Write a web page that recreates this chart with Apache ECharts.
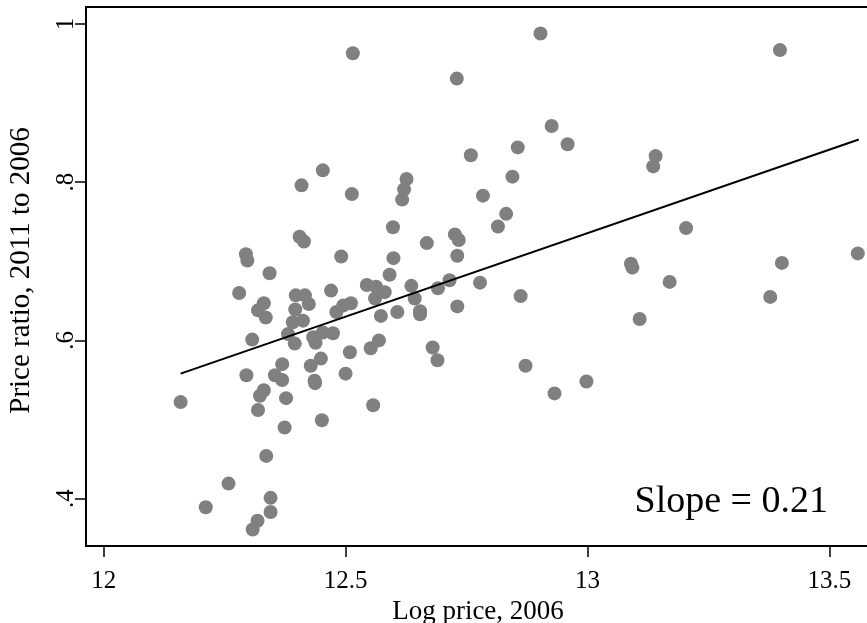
<!DOCTYPE html>
<html>
<head>
<meta charset="utf-8">
<script src="https://cdn.jsdelivr.net/npm/echarts@6/dist/echarts.min.js"></script>
<style>html,body{margin:0;padding:0;background:#fff}#c{width:867px;height:623px}</style>
</head>
<body>
<div id="c"></div>
<script>
// Scatter data: log price 2006 (x) and price ratio 2011/2006 (y)
const logPrice = [
12.515,12.453,12.409,12.513,12.405,12.414,12.294,12.297,12.491,12.343,
12.903,12.730,12.926,12.959,12.856,12.759,12.845,13.141,13.136,12.626,
12.621,12.617,12.784,12.832,12.815,12.598,12.668,12.726,12.734,12.731,
12.599,13.090,13.093,13.398,13.204,13.402,13.559,13.170,13.108,13.378,
12.280,12.470,12.544,12.563,12.581,12.561,12.397,12.416,12.424,12.331,
12.319,12.335,12.396,12.391,12.412,12.481,12.495,12.511,12.573,12.607,
12.307,12.381,12.395,12.433,12.438,12.453,12.474,12.569,12.552,12.509,
12.369,12.428,12.449,12.295,12.354,12.369,12.500,12.436,12.437,12.331,
12.323,12.159,12.377,12.319,12.557,12.451,12.374,12.336,12.258,12.211,
12.345,12.345,12.318,12.308,12.636,12.691,12.715,12.778,12.643,12.862,
12.654,12.654,12.731,12.680,12.690,12.872,12.932,12.998,12.591
];
const priceRatio = [
0.963,0.815,0.796,0.785,0.731,0.725,0.709,0.701,0.706,0.685,
0.988,0.931,0.871,0.848,0.844,0.834,0.807,0.833,0.820,0.804,
0.791,0.778,0.783,0.760,0.744,0.743,0.723,0.734,0.727,0.707,
0.704,0.697,0.692,0.967,0.742,0.698,0.710,0.674,0.627,0.655,
0.660,0.663,0.670,0.668,0.661,0.653,0.657,0.657,0.646,0.647,
0.638,0.629,0.639,0.623,0.625,0.636,0.644,0.647,0.631,0.636,
0.601,0.608,0.596,0.604,0.597,0.610,0.609,0.600,0.590,0.585,
0.570,0.568,0.577,0.556,0.556,0.550,0.558,0.549,0.546,0.537,
0.530,0.522,0.527,0.512,0.518,0.499,0.490,0.454,0.419,0.389,
0.401,0.383,0.372,0.361,0.669,0.666,0.676,0.673,0.653,0.656,
0.637,0.633,0.643,0.591,0.575,0.568,0.533,0.548,0.683
];
// Fitted line end points
const fitX = [12.159, 13.561];
const fitY = [0.558, 0.854];
// Tick values and labels
const xTicks = [12, 12.5, 13, 13.5];
const xTickLabels = ['12', '12.5', '13', '13.5'];
const yTicks = [0.4, 0.6, 0.8, 1];
const yTickLabels = ['.4', '.6', '.8', '1'];
const slopeText = 'Slope = 0.21';

const pts = logPrice.map((x, i) => [x, priceRatio[i]]);
const line = fitX.map((x, i) => [x, fitY[i]]);
const font = 'Liberation Serif';

const chart = echarts.init(document.getElementById('c'), null, {renderer: 'canvas'});
chart.setOption({
  animation: false,
  backgroundColor: '#fff',
  grid: {left: 86, top: 7, right: -3, bottom: 77, outerBoundsMode: 'none', containLabel: false,
    show: true, borderColor: '#000', borderWidth: 2, backgroundColor: 'transparent'},
  xAxis: {
    type: 'value', min: 11.9634, max: 13.5842,
    name: 'Log price, 2006', nameLocation: 'middle', nameGap: 40,
    nameTextStyle: {fontFamily: font, fontSize: 27, color: '#000'},
    axisLine: {show: true, onZero: false, lineStyle: {color: '#000', width: 2}},
    axisTick: {show: true, length: 11, lineStyle: {color: '#000', width: 1.5}, customValues: xTicks},
    axisLabel: {show: true, margin: 23, fontFamily: font, fontSize: 25, color: '#000', customValues: xTicks,
      formatter: v => xTickLabels[xTicks.findIndex(t => Math.abs(t - v) < 1e-6)] ?? ''},
    splitLine: {show: false}
  },
  yAxis: {
    type: 'value', min: 0.3401, max: 1.0215,
    name: 'Price ratio, 2011 to 2006', nameLocation: 'middle', nameGap: 50, nameRotate: 90,
    nameTextStyle: {fontFamily: font, fontSize: 29, color: '#000', padding: [0, 0, 0, 12]},
    axisLine: {show: true, onZero: false, lineStyle: {color: '#000', width: 2}},
    axisTick: {show: true, length: 11, lineStyle: {color: '#000', width: 1.5}, customValues: yTicks},
    axisLabel: {show: true, margin: 7, rotate: 90, fontFamily: font, fontSize: 25, color: '#000', customValues: yTicks,
      formatter: v => yTickLabels[yTicks.findIndex(t => Math.abs(t - v) < 1e-6)] ?? ''},
    splitLine: {show: false}
  },
  series: [
    {type: 'scatter', data: pts, symbol: 'circle', symbolSize: 14, itemStyle: {color: '#808080', opacity: 1}, z: 2},
    {type: 'line', data: line, showSymbol: false, symbol: 'none', lineStyle: {color: '#000', width: 2}, z: 3}
  ],
  graphic: [{
    type: 'text', z: 10,
    style: {text: slopeText, x: 828, y: 502, textAlign: 'right', textVerticalAlign: 'middle', font: '38px "Liberation Serif"', fill: '#000'}
  }]
});
</script>
</body>
</html>
